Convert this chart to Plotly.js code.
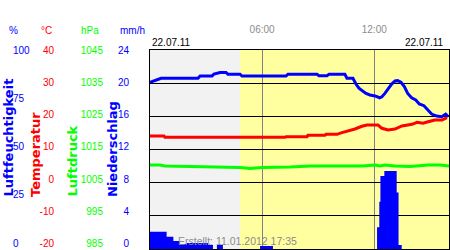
<!DOCTYPE html>
<html>
<head>
<meta charset="utf-8">
<script src="https://cdn.plot.ly/plotly-3.0.1.min.js"></script>
<style>html,body{margin:0;padding:0;background:#fff;}#chart{width:450px;height:250px;}</style>
</head>
<body>
<div id="chart"></div>
<script>
// ---- data (time in hours of 22.07.11) ----
const humTime = [0,0.27,0.59,2.57,2.68,3.32,3.42,3.75,4.07,4.17,4.82,4.92,7.28,7.38,8.94,9.04,9.47,9.58,10.43,10.54,10.86,11.02,11.18,11.38,11.56,11.77,12.04,12.29,12.41,12.57,12.72,12.93,13.11,13.25,13.43,13.61,13.79,14.0,14.22,14.41,14.66,14.89,15.07,15.34,15.61,15.82,15.96];
const humValues = [83.7,84.6,85.8,85.8,86.9,86.9,87.9,88.7,88.7,87.8,87.8,86.9,86.9,87.8,87.8,87.1,87.1,87.8,87.8,85.8,85.8,82.9,80.8,79.4,78.2,77.4,76.9,76.0,76.5,78.2,80.4,82.9,84.4,84.6,83.8,81.6,78.2,76.0,74.9,72.9,72.0,69.8,67.8,66.8,66.5,67.8,66.5];

const tempTime = [0,0.75,0.80,2.03,2.09,3.91,3.96,7.22,7.28,8.40,8.45,9.36,9.42,10.01,10.27,10.60,10.97,11.34,11.61,12.20,12.41,12.74,13.11,13.48,14.02,14.29,14.61,14.88,15.25,15.63,15.89];
const tempValues = [14.07,14.07,13.68,13.68,13.47,13.47,13.68,13.68,13.86,13.86,14.28,14.28,14.58,14.58,15.07,15.49,16.18,17.0,17.39,17.39,16.39,15.88,16.18,17.09,17.60,18.20,17.90,18.38,18.89,18.89,19.59];

const presTime = [0,0.54,0.80,2.14,3.48,4.82,5.35,5.99,7.49,8.62,11.34,12.04,12.31,12.58,13.11,13.91,14.88,15.52,16];
const presValues = [1010.33,1010.33,1010.03,1009.87,1009.72,1009.57,1009.27,1009.57,1009.72,1010.03,1010.03,1010.33,1010.03,1010.33,1010.03,1009.87,1010.33,1010.33,1010.03];

const rainTime = [0,0.89,1.25,1.6,1.96,3.1,3.37,3.58,3.9,5.89,6.58,12.15,12.27,12.33,12.54,13.2,13.3,13.47,16];
const rainValues = [2.09,1.48,0.96,0.60,0.72,0.48,0,0.48,0,0.36,0,2.62,5.70,8.80,9.41,6.81,0.48,0,0];

const sunrise = 4.82;
const timeTicks = [6,12];
const timeTickLabels = ['06:00','12:00'];
const humTicks = [0,25,50,75,100];
const tempTicks = [-20,-10,0,10,20,30,40];
const presTicks = [985,995,1005,1015,1025,1035,1045];
const rainTicks = [0,4,8,12,16,20,24];
const dateLabel = '22.07.11';
const createdLabel = 'Erstellt: 11.01.2012 17:35';

// ---- layout helpers ----
const FONT = 'Liberation Sans, Arial, sans-serif';
const BLUE = '#0000FF', RED = '#FF0000', GREEN = '#00FF00';
const L = 150, R = 449, T = 50, B = 249;
const px = x => (x - L) / (R - L);
const py = y => (B - y) / (B - T);

const traces = [
  {x: rainTime, y: rainValues, yaxis: 'y4', type: 'scatter', mode: 'lines',
   line: {shape: 'hv', width: 0, color: BLUE}, fill: 'tozeroy', fillcolor: BLUE, hoverinfo: 'skip'},
  {x: presTime, y: presValues, yaxis: 'y3', type: 'scatter', mode: 'lines',
   line: {width: 3, color: GREEN}},
  {x: tempTime, y: tempValues, yaxis: 'y', type: 'scatter', mode: 'lines',
   line: {width: 3, color: RED}},
  {x: humTime, y: humValues, yaxis: 'y2', type: 'scatter', mode: 'lines',
   line: {width: 3, color: BLUE}}
];
// empty traces so that the four labelled scales are created and drawn
['y5', 'y6', 'y7', 'y8'].forEach(a => traces.push({x: [], y: [], yaxis: a, type: 'scatter', mode: 'lines', hoverinfo: 'skip'}));

function labelAxis(range, ticks, color, standoff, inside) {
  const a = {overlaying: 'y', anchor: 'x', side: 'left', range: range, autorange: false, tickmode: 'array',
    tickvals: ticks, ticktext: ticks.map(String), showgrid: false, zeroline: false, showline: false,
    ticks: '', tickfont: {family: FONT, size: 10, color: color}, ticklabelstandoff: standoff,
    fixedrange: true};
  if (inside) { a.ticklabelposition = 'inside'; a.ticklabeloverflow = 'allow'; }
  return a;
}

const annText = (t, x, y, color, opts) => Object.assign({
  text: t, xref: 'paper', yref: 'paper', x: px(x), y: py(y), showarrow: false,
  font: {family: FONT, size: 10, color: color}, xanchor: 'center', yanchor: 'middle'}, opts || {});

const titleFont = c => ({family: 'DejaVu Sans, sans-serif', size: 13, color: c, weight: 'bold'});

const layout = {
  width: 450, height: 250,
  margin: {l: L, r: 450 - R, t: T, b: 250 - B, pad: 0},
  paper_bgcolor: '#FFFFFF', plot_bgcolor: '#FFFFFF', showlegend: false,
  xaxis: {range: [0, 16], side: 'top', tickmode: 'array', tickvals: timeTicks, ticktext: timeTickLabels,
    showgrid: true, gridcolor: '#808080', gridwidth: 1, zeroline: false, showline: true, mirror: true,
    linecolor: '#000000', linewidth: 1, ticks: '', tickfont: {family: FONT, size: 10, color: '#8C8C8C'},
    ticklabelstandoff: 12, fixedrange: true},
  yaxis: {range: [-20, 40], tickmode: 'array', tickvals: tempTicks, showticklabels: false,
    showgrid: true, gridcolor: '#000000', gridwidth: 1, zeroline: false, showline: true, mirror: true,
    linecolor: '#000000', linewidth: 1, ticks: '', fixedrange: true},
  yaxis2: {overlaying: 'y', range: [0, 100], visible: false, fixedrange: true},
  yaxis3: {overlaying: 'y', range: [985, 1045], visible: false, fixedrange: true},
  yaxis4: {overlaying: 'y', range: [0, 24], visible: false, fixedrange: true},
  yaxis5: labelAxis([-2.95, 100], humTicks, BLUE, -140, true),
  yaxis6: labelAxis([-21.55, 40], tempTicks, RED, 95, false),
  yaxis7: labelAxis([983.45, 1045], presTicks, GREEN, 46, false),
  yaxis8: labelAxis([-0.62, 24], rainTicks, BLUE, 20, false),
  shapes: [
    {type: 'rect', xref: 'x', yref: 'paper', x0: 0, x1: sunrise, y0: 0, y1: 1,
     fillcolor: '#F2F2F2', line: {width: 0}, layer: 'below'},
    {type: 'rect', xref: 'x', yref: 'paper', x0: sunrise, x1: 16, y0: 0, y1: 1,
     fillcolor: '#FFFFA0', line: {width: 0}, layer: 'below'}
  ],
  annotations: [
    annText('%', 13.5, 30, BLUE),
    annText('°C', 46.5, 30, RED),
    annText('hPa', 90, 30, GREEN),
    annText('mm/h', 132, 30, BLUE),
    annText(dateLabel, 150, 43, '#000000', {xanchor: 'left'}),
    annText(dateLabel, 446, 43, '#000000', {xanchor: 'right'}),
    annText('Luftfeuchtigkeit', 7.5, 199, BLUE, {textangle: -90, yanchor: 'bottom', font: titleFont(BLUE)}),
    annText('Temperatur', 35.5, 199, RED, {textangle: -90, yanchor: 'bottom', font: titleFont(RED)}),
    annText('Luftdruck', 72, 199, GREEN, {textangle: -90, yanchor: 'bottom', font: titleFont(GREEN)}),
    annText('Niederschlag', 112, 199, BLUE, {textangle: -90, yanchor: 'bottom', font: titleFont(BLUE)}),
    annText(createdLabel, 176, 240.5, '#8C8C8C', {xanchor: 'left',
      font: {family: FONT, size: 10.5, color: '#8C8C8C'}})
  ]
};

Plotly.newPlot('chart', traces, layout, {staticPlot: true, displayModeBar: false});
</script>
</body>
</html>
